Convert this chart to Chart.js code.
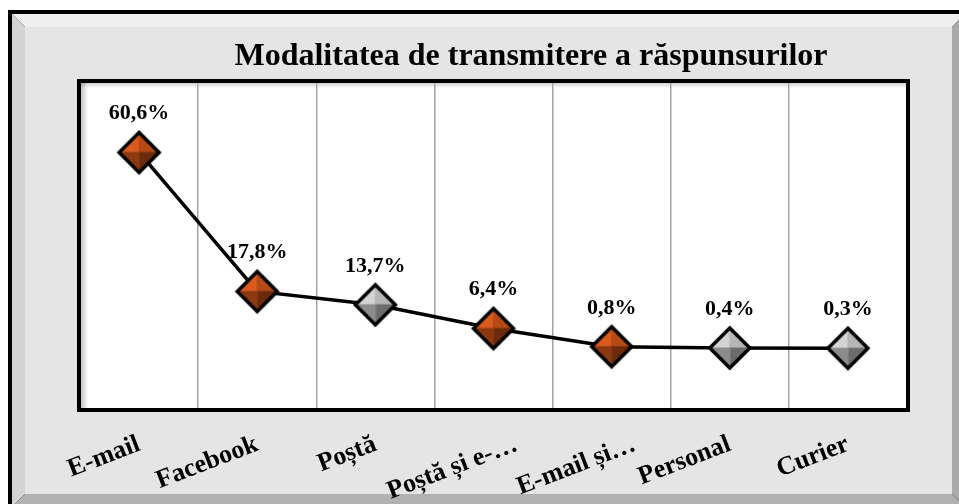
<!DOCTYPE html>
<html>
<head>
  <script src="https://cdn.jsdelivr.net/npm/chart.js@4.4.1/dist/chart.umd.min.js"></script>
  <style>
    body { margin: 0; background: #fff; }
  </style>
</head>
<body>

<canvas id="replyChart" width="959" height="504"></canvas>

<script>
var chartTitle = "Modalitatea de transmitere a răspunsurilor";
var categories = ["E-mail", "Facebook", "Poștă", "Poștă și e-…", "E-mail și…", "Personal", "Curier"];
var shares = [60.6, 17.8, 13.7, 6.4, 0.8, 0.4, 0.3];
var yMin = -18.4;
var yMax = 82.3;

var serif = "'Liberation Serif', 'Times New Roman', serif";

// pyramid shading: top-left, top-right, bottom-right, bottom-left
var orangeShades = ["#d95b1e", "#b54a16", "#6b2a0c", "#8a3911"];
var greyShades = ["#d4d4d4", "#b6b6b6", "#6c6c6c", "#8c8c8c"];
var markerShades = [orangeShades, orangeShades, greyShades, orangeShades, orangeShades, greyShades, greyShades];

function makeDiamond(shades) {
  var r = 20, size = 48, c = size / 2;
  var cv = document.createElement("canvas");
  cv.width = size; cv.height = size;
  var g = cv.getContext("2d");
  var top = [c, c - r], right = [c + r, c], bottom = [c, c + r], left = [c - r, c];
  var tris = [[left, top], [top, right], [right, bottom], [bottom, left]];
  tris.forEach(function(t, i) {
    g.beginPath();
    g.moveTo(c, c);
    g.lineTo(t[0][0], t[0][1]);
    g.lineTo(t[1][0], t[1][1]);
    g.closePath();
    g.fillStyle = shades[i];
    g.strokeStyle = shades[i];
    g.lineWidth = 1;
    g.fill();
    g.stroke();
  });
  g.beginPath();
  g.moveTo(top[0], top[1]);
  g.lineTo(right[0], right[1]);
  g.lineTo(bottom[0], bottom[1]);
  g.lineTo(left[0], left[1]);
  g.closePath();
  g.lineWidth = 3.5;
  g.lineJoin = "miter";
  g.strokeStyle = "#000";
  g.stroke();
  return cv;
}

var markers = markerShades.map(makeDiamond);

function fmtShare(v) {
  return v.toFixed(1).replace(".", ",") + "%";
}

var backdrop = {
  id: "backdrop",
  beforeDraw: function(chart) {
    var ctx = chart.ctx, a = chart.chartArea;
    // the two truncated labels sit a little further right in the original
    var items = chart.scales.x.getLabelItems ? chart.scales.x.getLabelItems(a) : null;
    if (items && !items._shifted) {
      [3, 4].forEach(function(i) {
        if (items[i] && items[i].options && items[i].options.translation) {
          items[i].options.translation[0] += 23;
        }
      });
      items._shifted = true;
    }
    ctx.save();
    ctx.fillStyle = "#fff";
    ctx.fillRect(0, 0, chart.width, chart.height);
    // outer black frame
    ctx.fillStyle = "#000";
    ctx.fillRect(8, 10, 970, 510);
    // bevelled grey panel
    var x0 = 12, y0 = 14, x1 = 965, y1 = 507, b = 13;
    function poly(pts, col) {
      ctx.beginPath();
      ctx.moveTo(pts[0][0], pts[0][1]);
      for (var i = 1; i < pts.length; i++) ctx.lineTo(pts[i][0], pts[i][1]);
      ctx.closePath();
      ctx.fillStyle = col;
      ctx.fill();
    }
    poly([[x0, y0], [x1, y0], [x1 - b, y0 + b], [x0 + b, y0 + b]], "#efefef");
    poly([[x0, y0], [x0 + b, y0 + b], [x0 + b, y1 - b], [x0, y1]], "#d3d3d3");
    poly([[x1, y0], [x1, y1], [x1 - b, y1 - b], [x1 - b, y0 + b]], "#a9a9a9");
    poly([[x0, y1], [x0 + b, y1 - b], [x1 - b, y1 - b], [x1, y1]], "#b1b1b1");
    ctx.fillStyle = "#e5e5e5";
    ctx.fillRect(x0 + b, y0 + b, x1 - x0 - 2 * b, y1 - y0 - 2 * b);
    // plot area
    ctx.fillStyle = "#fff";
    ctx.fillRect(a.left, a.top, a.width, a.height);
    var gl = ctx.createLinearGradient(a.left, 0, a.left + 8, 0);
    gl.addColorStop(0, "rgba(0,0,0,0.28)");
    gl.addColorStop(1, "rgba(0,0,0,0)");
    ctx.fillStyle = gl;
    ctx.fillRect(a.left, a.top, 8, a.height);
    var gt = ctx.createLinearGradient(0, a.top, 0, a.top + 6);
    gt.addColorStop(0, "rgba(0,0,0,0.22)");
    gt.addColorStop(1, "rgba(0,0,0,0)");
    ctx.fillStyle = gt;
    ctx.fillRect(a.left, a.top, a.width, 6);
    ctx.restore();
  },
  afterDatasetsDraw: function(chart) {
    var ctx = chart.ctx;
    var meta = chart.getDatasetMeta(0);
    ctx.save();
    ctx.font = "bold 22px " + serif;
    ctx.fillStyle = "#000";
    ctx.textAlign = "center";
    ctx.textBaseline = "alphabetic";
    meta.data.forEach(function(pt, i) {
      ctx.fillText(fmtShare(shares[i]), pt.x, pt.y - 33);
    });
    ctx.restore();
  },
  afterDraw: function(chart) {
    var ctx = chart.ctx, a = chart.chartArea;
    ctx.save();
    ctx.strokeStyle = "#000";
    ctx.lineWidth = 4;
    ctx.strokeRect(a.left - 1, a.top - 1, a.width + 2, a.height + 2);
    ctx.font = "bold 32px " + serif;
    ctx.fillStyle = "#000";
    ctx.textAlign = "center";
    ctx.textBaseline = "alphabetic";
    ctx.fillText(chartTitle, 531, 65);
    ctx.restore();
  }
};

var ctx = document.getElementById("replyChart").getContext("2d");
var replyChart = new Chart(ctx, {
  type: "line",
  data: {
    labels: categories,
    datasets: [{
      data: shares,
      borderColor: "#000",
      borderWidth: 3.5,
      tension: 0,
      pointStyle: markers,
      pointRadius: 20,
      pointHoverRadius: 20,
      clip: false
    }]
  },
  options: {
    responsive: false,
    animation: false,
    events: [],
    layout: { padding: { left: 80, right: 52, top: 82, bottom: 0 } },
    plugins: {
      legend: { display: false },
      tooltip: { enabled: false },
      title: { display: false }
    },
    scales: {
      x: {
        offset: true,
        grid: { display: true, offset: true, color: "#a4a4a4", lineWidth: 1.5, drawTicks: false },
        border: { display: false },
        ticks: {
          autoSkip: false,
          minRotation: 21,
          maxRotation: 21,
          padding: 20,
          color: "#000",
          font: { family: serif, size: 26, weight: "bold" }
        },
        afterFit: function(s) { s.height = 95; }
      },
      y: {
        display: false,
        min: yMin,
        max: yMax
      }
    }
  },
  plugins: [backdrop]
});
</script>

</body>
</html>
